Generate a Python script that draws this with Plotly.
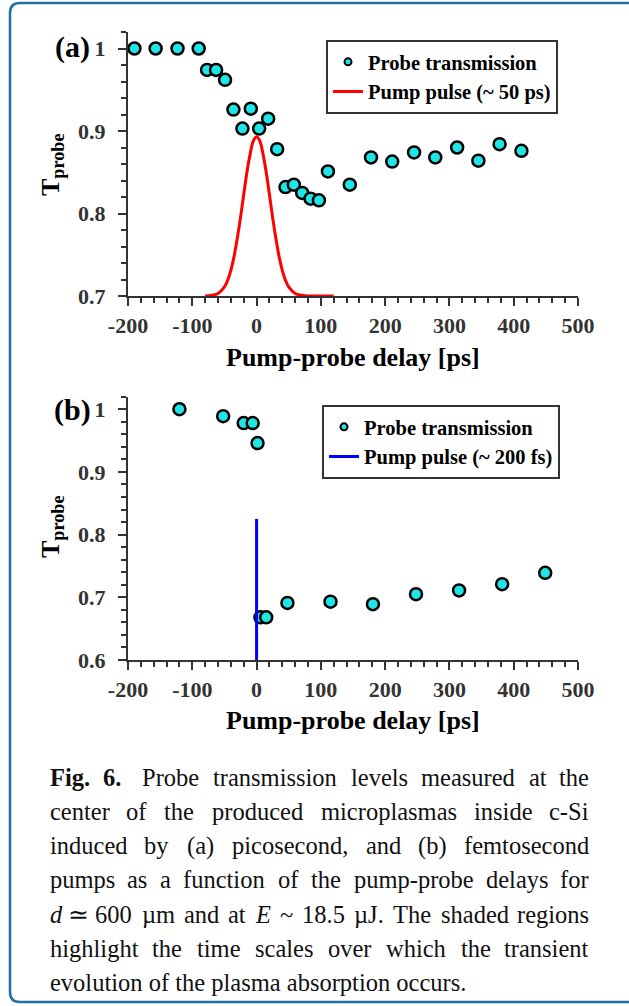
import plotly.graph_objects as go

W, H = 629, 1006

# ---------------- data ----------------
# Panel (a): picosecond pump
delay_a = [-190, -157, -123, -90, -77, -63, -49, -36, -22, -9, 4, 18, 32, 45, 58, 71, 84, 97, 111,
           145, 178, 211, 245, 278, 312, 345, 378, 412]
trans_a = [1.0, 1.0, 1.0, 1.0, 0.974, 0.974, 0.962, 0.926, 0.903, 0.927, 0.903, 0.915, 0.878, 0.832,
           0.835, 0.825, 0.818, 0.816, 0.851, 0.835, 0.868, 0.863, 0.874, 0.868, 0.880, 0.864, 0.884, 0.876]
pulse_a_x = [-80, -70, -60, -50, -45, -40, -35, -30, -25, -20, -15, -10, -5, 0, 5, 10, 15, 20, 25, 30,
             35, 40, 45, 50, 60, 70, 80, 100, 120]
pulse_a_y = [0.700, 0.701, 0.703, 0.711, 0.719, 0.731, 0.748, 0.770, 0.795, 0.823, 0.850, 0.872, 0.888,
             0.893, 0.888, 0.872, 0.850, 0.823, 0.795, 0.770, 0.748, 0.731, 0.719, 0.711, 0.703, 0.701,
             0.700, 0.700, 0.700]

# Panel (b): femtosecond pump
delay_b = [-120, -52, -20, -6, 1.5, 6, 15, 48, 115, 181, 248, 315, 382, 449]
trans_b = [1.0, 0.989, 0.978, 0.978, 0.946, 0.668, 0.668, 0.691, 0.693, 0.689, 0.705, 0.711, 0.721, 0.739]
pulse_b_x = [0, 0]
pulse_b_y = [0.6, 0.825]

ticks_a = [0.7, 0.8, 0.9, 1.0]
ticklab_a = ["0.7", "0.8", "0.9", "1"]
ticks_b = [0.6, 0.7, 0.8, 0.9, 1.0]
ticklab_b = ["0.6", "0.7", "0.8", "0.9", "1"]
xticks = [-200, -100, 0, 100, 200, 300, 400, 500]
xticklab = ["-200", "-100", "0", "100", "200", "300", "400", "500"]

# caption lines: words, with style flag ('b' bold, 'i' italic, '' plain)
caption_lines = [
    [("Fig.", "b"), ("6.", "b"), ("Probe", ""), ("transmission", ""), ("levels", ""), ("measured", ""),
     ("at", ""), ("the", "")],
    [("center", ""), ("of", ""), ("the", ""), ("produced", ""), ("microplasmas", ""), ("inside", ""),
     ("c-Si", "")],
    [("induced", ""), ("by", ""), ("(a)", ""), ("picosecond,", ""), ("and", ""), ("(b)", ""),
     ("femtosecond", "")],
    [("pumps", ""), ("as", ""), ("a", ""), ("function", ""), ("of", ""), ("the", ""), ("pump-probe", ""),
     ("delays", ""), ("for", "")],
    [("d", "i"), ("≃", ""), ("600", ""), ("µm", ""), ("and", ""), ("at", ""), ("E", "i"), ("~", ""),
     ("18.5", ""), ("µJ.", ""), ("The", ""), ("shaded", ""), ("regions", "")],
    [("highlight", ""), ("the", ""), ("time", ""), ("scales", ""), ("over", ""), ("which", ""),
     ("the", ""), ("transient", "")],
]
caption_last = "evolution of the plasma absorption occurs."

# ---------------- style ----------------
SERIF = "Liberation Serif"
AX = "#333333"
CYAN = "#1ee6e6"


def px(x):
    return x / W


def py(y):
    return 1 - y / H


fig = go.Figure()

marker = dict(size=12, color=CYAN, line=dict(color="black", width=2.5))
leg_marker = dict(size=7, color=CYAN, line=dict(color="black", width=2))

fig.add_trace(go.Scatter(x=delay_a, y=trans_a, mode="markers", marker=marker, showlegend=False,
                         xaxis="x", yaxis="y"))
fig.add_trace(go.Scatter(x=pulse_a_x, y=pulse_a_y, mode="lines", line=dict(color="#ff0000", width=3,
                         shape="spline"), name="Pump pulse (~ 50 ps)", xaxis="x", yaxis="y",
                         legend="legend", legendrank=2))
fig.add_trace(go.Scatter(x=[None], y=[None], mode="markers", marker=leg_marker,
                         name="Probe transmission", xaxis="x", yaxis="y", legend="legend",
                         legendrank=1))
fig.add_trace(go.Scatter(x=delay_b, y=trans_b, mode="markers", marker=marker, showlegend=False,
                         xaxis="x2", yaxis="y2"))
fig.add_trace(go.Scatter(x=pulse_b_x, y=pulse_b_y, mode="lines", line=dict(color="#0000ff", width=3),
                         name="Pump pulse (~ 200 fs)", xaxis="x2", yaxis="y2", legend="legend2",
                         legendrank=2))
fig.add_trace(go.Scatter(x=[None], y=[None], mode="markers", marker=leg_marker,
                         name="Probe transmission", xaxis="x2", yaxis="y2", legend="legend2",
                         legendrank=1))

tickfont = dict(family=SERIF, size=22, color=AX, weight="bold")
xax = dict(range=[-200, 500], tickvals=xticks, ticktext=xticklab, showline=True, linecolor=AX,
           linewidth=2, ticks="outside", ticklen=8, tickwidth=2, tickcolor=AX, showgrid=False,
           zeroline=False, tickfont=tickfont, domain=[px(128), px(578)], ticklabelstandoff=1,
           minor=dict(dtick=20, ticks="outside", ticklen=5, tickwidth=2, tickcolor=AX))
yax = dict(showline=True, linecolor=AX, linewidth=2, ticks="outside", ticklen=8, tickwidth=2,
           tickcolor=AX, showgrid=False, zeroline=False, tickfont=tickfont, ticklabelstandoff=8,
           minor=dict(dtick=0.02, ticks="outside", ticklen=5, tickwidth=2, tickcolor=AX))

legfont = dict(family=SERIF, size=20.5, color="black", weight="bold")
leg = dict(bgcolor="white", bordercolor=AX, borderwidth=2, font=legfont, itemsizing="trace",
           xanchor="left", yanchor="top", tracegroupgap=0)

fig.update_layout(
    width=W, height=H, margin=dict(l=0, r=0, t=0, b=0, pad=0, autoexpand=False), autosize=False,
    paper_bgcolor="white", plot_bgcolor="white",
    xaxis=dict(xax, anchor="y"),
    yaxis=dict(yax, range=[0.7, 1.02], tickvals=ticks_a, ticktext=ticklab_a,
               domain=[py(296), py(32)], anchor="x"),
    xaxis2=dict(xax, anchor="y2"),
    yaxis2=dict(yax, range=[0.6, 1.02], tickvals=ticks_b, ticktext=ticklab_b,
                domain=[py(660), py(396.7)], anchor="x2"),
    legend=dict(leg, x=px(326), y=py(40)),
    legend2=dict(leg, x=px(322), y=py(405)),
    showlegend=True,
)

ann_title = dict(family=SERIF, size=26, color="black", weight="bold")
for yc in (357, 720):
    fig.add_annotation(text="Pump-probe delay [ps]", x=px(353), y=py(yc), xref="paper", yref="paper",
                       showarrow=False, font=ann_title, xanchor="center", yanchor="middle")
for yc in (165, 527):
    fig.add_annotation(text="T<sub>probe</sub>", x=px(52), y=py(yc), xref="paper", yref="paper",
                       showarrow=False, font=ann_title, textangle=-90, xanchor="center",
                       yanchor="middle")
panel_font = dict(family=SERIF, size=30, color="black", weight="bold")
for lab, yc in (("(a)", 47), ("(b)", 410)):
    fig.add_annotation(text=lab, x=px(72), y=py(yc), xref="paper", yref="paper", showarrow=False,
                       font=panel_font, xanchor="center", yanchor="middle")

# ---- justified caption (approximate Times metrics, per 1000 em) ----
TW = dict(zip("abcdefghijklmnopqrstuvwxyz",
              [444, 500, 444, 500, 444, 333, 500, 500, 278, 278, 500, 278, 778, 500, 500, 500, 500,
               333, 389, 278, 500, 500, 722, 500, 500, 444]))
TW.update({"P": 556, "T": 611, "E": 611, "S": 556, "J": 389, "F": 611, ".": 250, ",": 250, "-": 333,
           "(": 333, ")": 333, "~": 541, "µ": 576, "≃": 640})
for dgt in "0123456789":
    TW[dgt] = 500

CAP_SIZE = 24.5
capfont = dict(family=SERIF, size=CAP_SIZE, color="#111111")
LEFT, RIGHT = 49, 590


def word_w(w):
    return sum(TW.get(c, 500) for c in w) / 1000 * CAP_SIZE


def styled(w, s):
    if s == "b":
        return f"<b>{w}</b>"
    if s == "i":
        return f"<i>{w}</i>"
    return w


for i, words in enumerate(caption_lines):
    yc = py(777 + i * 34.3)
    widths = [word_w(w) for w, _ in words]
    extra = [0.0] * len(words)
    if i == 0:
        extra[1] = 0.3 * CAP_SIZE  # wider gap after "Fig. 6."
    gap = (RIGHT - LEFT - sum(widths) - sum(extra)) / (len(words) - 1)
    xpos = LEFT
    for k, ((w, s), ww) in enumerate(zip(words, widths)):
        if k == 0:
            xa, xx = "left", LEFT
        elif k == len(words) - 1:
            xa, xx = "right", RIGHT
        else:
            xa, xx = "center", xpos + ww / 2
        fig.add_annotation(text=styled(w, s), x=px(xx), y=yc, xref="paper", yref="paper",
                           showarrow=False, font=capfont, xanchor=xa, yanchor="middle",
                           borderpad=0)
        xpos += ww + gap + extra[k]

fig.add_annotation(text=caption_last, x=px(LEFT), y=py(777 + 6 * 34.3), xref="paper", yref="paper",
                   showarrow=False, font=capfont, xanchor="left", yanchor="middle", borderpad=0)

# rounded frame (open on the right, running to the page edge)
x0, x1, y0, y1, r = 10, 629, 3, 1002, 10
path = (f"M {px(x1)} {py(y0)} L {px(x0 + r)} {py(y0)} Q {px(x0)} {py(y0)} {px(x0)} {py(y0 + r)} "
        f"L {px(x0)} {py(y1 - r)} Q {px(x0)} {py(y1)} {px(x0 + r)} {py(y1)} L {px(x1)} {py(y1)}")
fig.add_shape(type="path", path=path, xref="paper", yref="paper",
              line=dict(color="#1f6ea6", width=2.5), layer="below")

fig.write_html("out.html", default_width="629px", default_height="1006px",
               config={"displayModeBar": False},
               post_script="document.body.style.margin='0';document.body.style.padding='0';"
                           "document.body.style.overflow='hidden';")
